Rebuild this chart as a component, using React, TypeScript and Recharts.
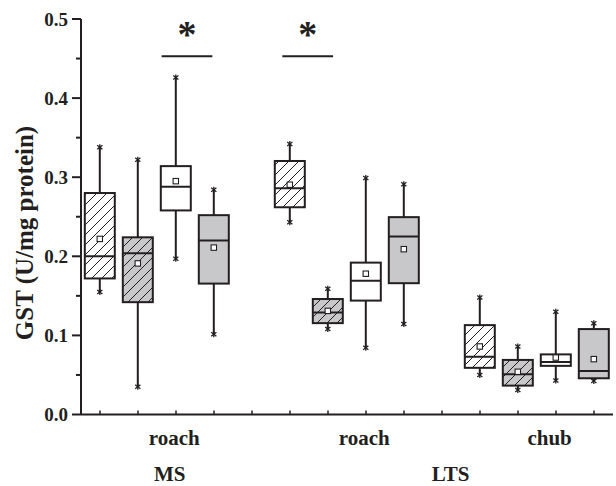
import React from 'react';
import { ComposedChart, Bar, XAxis, YAxis, ReferenceLine, ReferenceDot } from 'recharts';

// 14 category slots along the x axis (slots 4 and 9 are empty gaps)
const slots = ['s0', 's1', 's2', 's3', 's4', 's5', 's6', 's7', 's8', 's9', 's10', 's11', 's12', 's13'];
// box style per slot: hw = hatched white, hg = hatched grey, w = white, g = grey
const boxKinds = ['hw', 'hg', 'w', 'g', '', 'hw', 'hg', 'w', 'g', '', 'hw', 'hg', 'w', 'g'];
const whiskerLow = [0.155, 0.035, 0.197, 0.1015, null, 0.243, 0.108, 0.0845, 0.1145, null, 0.05, 0.031, 0.043, 0.0424];
const q1 = [0.172, 0.142, 0.258, 0.1655, null, 0.262, 0.1155, 0.144, 0.166, null, 0.059, 0.0365, 0.0615, 0.0458];
const median = [0.2, 0.204, 0.288, 0.22, null, 0.286, 0.129, 0.169, 0.225, null, 0.073, 0.051, 0.0665, 0.055];
const mean = [0.222, 0.191, 0.295, 0.211, null, 0.2905, 0.131, 0.178, 0.209, null, 0.086, 0.054, 0.072, 0.07];
const q3 = [0.28, 0.224, 0.314, 0.252, null, 0.3205, 0.146, 0.192, 0.2495, null, 0.113, 0.069, 0.076, 0.108];
const whiskerHigh = [0.338, 0.322, 0.426, 0.284, null, 0.342, 0.159, 0.299, 0.291, null, 0.148, 0.086, 0.13, 0.1154];

const yTicks = [0, 0.05, 0.1, 0.15, 0.2, 0.25, 0.3, 0.35, 0.4, 0.45, 0.5];

// significance bars (positions in slot units) and their labels
const sigStart = [1.97, 4.92];
const sigEnd = [3.21, 6.16];
const sigLevel = 0.453;
const sigText = ['*', '*'];

// group labels under the axis (positions in slot units)
const speciesNames = ['roach', 'roach', 'chub'];
const speciesPos = [2.28, 6.92, 11.45];
const siteNames = ['MS', 'LTS'];
const sitePos = [2.17, 9.03];

const yLabel = 'GST (U/mg protein)';

const data = slots.map((s, i) => ({
  slot: s,
  kind: boxKinds[i],
  box: q1[i] != null ? [q1[i], q3[i]] : null,
  low: whiskerLow[i],
  med: median[i],
  mean: mean[i],
  high: whiskerHigh[i],
}));

const INK = '#231f20';
const GREY = '#c8c8ca';
const FONT = "'Liberation Serif', 'Times New Roman', serif";

const Star = ({ x, y }: { x: number; y: number }) => (
  <g stroke={INK} strokeWidth={1.3}>
    <line x1={x} x2={x} y1={y - 3} y2={y + 3} />
    <line x1={x - 2.6} x2={x + 2.6} y1={y - 2} y2={y + 2} />
    <line x1={x - 2.6} x2={x + 2.6} y1={y + 2} y2={y - 2} />
  </g>
);

const BoxShape = (props: any) => {
  const { x, y, width, height, payload, index } = props;
  if (!payload || !payload.box) return null;
  const [lo, hi] = payload.box;
  const k = height / (hi - lo);
  const py = (v: number) => y + height - (v - lo) * k;
  const cx = x + width / 2;
  const hatched = payload.kind === 'hw' || payload.kind === 'hg';
  const bg = payload.kind === 'hg' || payload.kind === 'g' ? GREY : '#ffffff';
  const pid = `hatch-${index}`;
  const fill = hatched ? `url(#${pid})` : bg;
  const yMean = py(payload.mean);
  return (
    <g>
      {hatched && (
        <defs>
          <pattern id={pid} patternUnits="userSpaceOnUse" width={10} height={10}>
            <rect width={10} height={10} fill={bg} />
            <path d="M-1,1 L1,-1 M0,10 L10,0 M9,11 L11,9" stroke={INK} strokeWidth={1} />
          </pattern>
        </defs>
      )}
      <line x1={cx} x2={cx} y1={py(payload.high)} y2={y} stroke={INK} strokeWidth={2} />
      <line x1={cx} x2={cx} y1={y + height} y2={py(payload.low)} stroke={INK} strokeWidth={2} />
      <rect x={x} y={y} width={width} height={height} fill={fill} stroke={INK} strokeWidth={2} />
      <line x1={x} x2={x + width} y1={py(payload.med)} y2={py(payload.med)} stroke={INK} strokeWidth={2} />
      <rect x={cx - 2.7} y={yMean - 2.7} width={5.4} height={5.4} fill="#ffffff" stroke={INK} strokeWidth={1.1} />
      <Star x={cx} y={py(payload.high)} />
      <Star x={cx} y={py(payload.low)} />
    </g>
  );
};

const YTick = (props: any) => {
  const { x, y, payload } = props;
  const v = payload.value;
  const major = Math.abs(Math.round(v * 10) - v * 10) < 1e-6;
  return (
    <g>
      <line x1={x - (major ? 9 : 5)} x2={x} y1={y} y2={y} stroke={INK} strokeWidth={2} />
      {major && (
        <text x={x - 13} y={y + 6.5} textAnchor="end" fontFamily={FONT} fontWeight="bold" fontSize={19} fill={INK}>
          {v.toFixed(1)}
        </text>
      )}
    </g>
  );
};

const XTick = (props: any) => {
  const { x, y } = props;
  return <line x1={x} x2={x} y1={y} y2={y - 4} stroke={INK} strokeWidth={1.5} />;
};

const labelShape = (text: string, dy: number) => (p: any) => (
  <text x={p.cx} y={p.cy + dy} textAnchor="middle" fontFamily={FONT} fontWeight="bold" fontSize={21} fill={INK}>
    {text}
  </text>
);

const sigShape = (text: string) => (p: any) => (
  <text x={p.cx} y={p.cy - 9} textAnchor="middle" fontFamily={FONT} fontWeight="bold" fontSize={38} fill={INK}>
    {text}
  </text>
);

const YLabel = () => (
  <text
    x={33}
    y={233}
    transform="rotate(-90, 33, 233)"
    textAnchor="middle"
    fontFamily={FONT}
    fontWeight="bold"
    fontSize={25}
    fill={INK}
  >
    {yLabel}
  </text>
);

export default function App() {
  return (
    <div style={{ position: 'absolute', left: 0, top: 0, background: '#fff' }}>
      <ComposedChart width={616} height={486} data={data} margin={{ top: 19, right: 3, bottom: 41.5, left: 0 }}>
        <XAxis
          dataKey="slot"
          interval={0}
          height={30}
          tickLine={false}
          tickSize={0}
          tickMargin={0}
          tick={<XTick />}
          axisLine={{ stroke: INK, strokeWidth: 2 }}
        />
        <XAxis xAxisId="n" type="number" domain={[-0.5, 13.5]} allowDataOverflow hide />
        <YAxis
          domain={[0, 0.5]}
          ticks={yTicks}
          interval={0}
          width={81}
          allowDataOverflow
          tickLine={false}
          tickSize={0}
          tickMargin={0}
          tick={<YTick />}
          axisLine={{ stroke: INK, strokeWidth: 2 }}
          label={<YLabel />}
        />
        <Bar dataKey="box" shape={<BoxShape />} isAnimationActive={false} />
        {sigStart.map((s, i) => (
          <ReferenceLine
            key={`sl${i}`}
            xAxisId="n"
            segment={[{ x: s, y: sigLevel }, { x: sigEnd[i], y: sigLevel }]}
            stroke={INK}
            strokeWidth={2}
            ifOverflow="visible"
          />
        ))}
        {sigStart.map((s, i) => (
          <ReferenceDot
            key={`st${i}`}
            xAxisId="n"
            x={(s + sigEnd[i]) / 2}
            y={sigLevel}
            ifOverflow="visible"
            shape={sigShape(sigText[i])}
          />
        ))}
        {speciesNames.map((n, i) => (
          <ReferenceDot key={`sp${i}`} xAxisId="n" x={speciesPos[i]} y={0} ifOverflow="visible" shape={labelShape(n, 30.5)} />
        ))}
        {siteNames.map((n, i) => (
          <ReferenceDot key={`si${i}`} xAxisId="n" x={sitePos[i]} y={0} ifOverflow="visible" shape={labelShape(n, 66.5)} />
        ))}
      </ComposedChart>
    </div>
  );
}
